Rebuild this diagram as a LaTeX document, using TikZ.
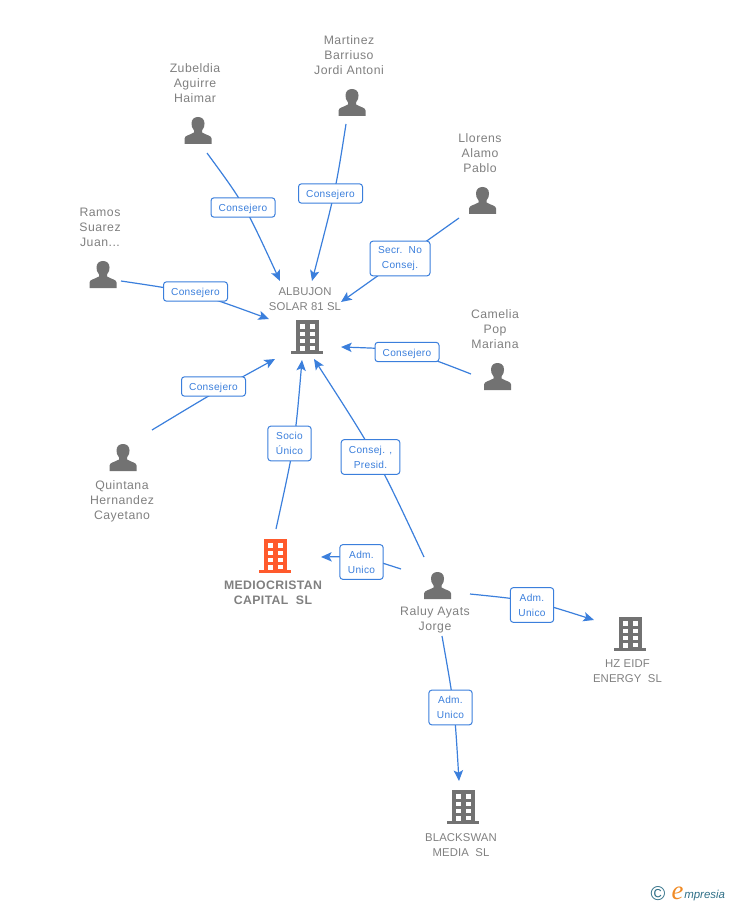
\documentclass[tikz,border=0pt]{standalone}
\usepackage{fontspec}
\setmainfont{Liberation Sans}
\newfontfamily\namefont[LetterSpace=4]{Liberation Sans}
\newfontfamily\cofont[LetterSpace=1]{Liberation Sans}
\newfontfamily\boldcofont[LetterSpace=3]{Liberation Sans Bold}
\newfontfamily\boxfont[LetterSpace=3]{Liberation Sans}
\newfontfamily\logoserif{Liberation Serif}
\usetikzlibrary{arrows.meta,backgrounds}
\definecolor{linkblue}{HTML}{3B7FDC}
\definecolor{icongray}{HTML}{727272}
\definecolor{textgray}{HTML}{808080}
\definecolor{orangeco}{HTML}{FF5A2C}
\definecolor{logoteal}{HTML}{2F6F87}
\definecolor{logoorange}{HTML}{F08A24}
\tikzset{
  personicon/.pic={
    \fill[icongray] (-13.5,13.5) -- (-13.5,8) .. controls (-13.5,5) and (-8,4.5) .. (-4,2) -- (-4,0)
      .. controls (-6,-2) and (-6.5,-5) .. (-6.5,-7) .. controls (-6.5,-11.5) and (-3.5,-13.5) .. (0,-13.5)
      .. controls (3.5,-13.5) and (6.5,-11.5) .. (6.5,-7) .. controls (6.5,-5) and (6,-2) .. (4,0) -- (4,2)
      .. controls (8,4.5) and (13.5,5) .. (13.5,8) -- (13.5,13.5) -- cycle;
  },
  buildingicon/.pic={
    \fill[pic actions] (-16,14) rectangle (16,17);
    \fill[pic actions] (-11,-17) rectangle (12,15);
    \foreach \wy/\wh in {-13/4.5,-5.5/4.5,1.5/4.5}{
      \fill[white] (-7,\wy) rectangle ++(4.7,\wh);
      \fill[white] (3,\wy) rectangle ++(4.7,\wh);
    }
    \fill[white] (-7,8.5) rectangle (-2.3,14);
    \fill[white] (3,8.5) rectangle (7.7,13);
  },
  name text/.style={text=textgray,align=center,inner sep=0pt,font=\namefont\fontsize{9.2}{11.25}\selectfont},
  co text/.style={text=textgray,align=center,inner sep=0pt,font=\cofont\fontsize{8.5}{11.25}\selectfont},
  linkbox/.style={draw=linkblue,fill=white,text=linkblue,rounded corners=2.2pt,line width=0.75pt,align=center,inner sep=0pt,
    font=\boxfont\fontsize{7.6}{11.25}\selectfont},
  onebox/.style={linkbox,minimum width=48pt,minimum height=14.5pt,text height=7pt,text depth=1pt},
  twobox/.style={linkbox,minimum width=32.5pt,minimum height=26pt},
  conn/.style={draw=linkblue,line width=0.9pt,-{Stealth[length=8pt,width=7pt,inset=1.8pt]}},
}
\begin{document}
\begin{tikzpicture}[x=0.75pt,y=-0.75pt]
\useasboundingbox (0,0) rectangle (728,905);

% icons
\pic at (198,130.5) {personicon};
\pic at (352,102.5) {personicon};
\pic at (482.5,200.5) {personicon};
\pic at (103,274.5) {personicon};
\pic at (497.5,376.5) {personicon};
\pic at (123,457.5) {personicon};
\pic at (437.5,585.5) {personicon};
\pic[icongray] at (307,337) {buildingicon};
\pic[orangeco] at (275,556) {buildingicon};
\pic[icongray] at (630,634) {buildingicon};
\pic[icongray] at (463,807) {buildingicon};

% texts
\node[name text] (zub) at (195,83) {Zubeldia\\Aguirre\\Haimar};
\node[name text] (mar) at (349,55) {Martinez\\Barriuso\\Jordi Antoni};
\node[name text] (llo) at (480,153) {Llorens\\Alamo\\Pablo};
\node[name text] (ram) at (100,227) {Ramos\\Suarez\\Juan...};
\node[name text] (cam) at (495,329) {Camelia\\Pop\\Mariana};
\node[name text] (qui) at (122,501) {Quintana\\Hernandez\\Cayetano};
\node[name text] (ral) at (435,620) {Raluy Ayats\\Jorge};
\node[co text] (alb) at (305,299) {ALBUJON\\SOLAR 81 SL};
\node[co text,font=\boldcofont\fontsize{9.2}{11.25}\selectfont] (med) at (273,592.5) {MEDIOCRISTAN\\CAPITAL\ \ SL};
\node[co text] (hze) at (627.5,671) {HZ EIDF\\ENERGY\ \ SL};
\node[co text] (bla) at (461,845) {BLACKSWAN\\MEDIA\ \ SL};

% link labels
\node[onebox] (l1) at (243,207.5) {Consejero};
\node[onebox] (l2) at (330.5,193.5) {Consejero};
\node[linkbox,minimum width=45pt,minimum height=26pt] (l3) at (400,258.5) {Secr.\ \ No\\Consej.};
\node[onebox] (l4) at (195.5,291.5) {Consejero};
\node[onebox] (l5) at (407,352) {Consejero};
\node[onebox] (l6) at (213.5,386.5) {Consejero};
\node[twobox] (l7) at (289.5,443.5) {Socio\\Único};
\node[linkbox,minimum width=44pt,minimum height=26pt] (l8) at (370.5,457) {Consej. ,\\Presid.};
\node[twobox] (l9) at (361.5,562) {Adm.\\Unico};
\node[twobox] (l10) at (532,605) {Adm.\\Unico};
\node[twobox] (l11) at (450.5,707.5) {Adm.\\Unico};

% connector ends and bend points
\coordinate (s1) at (207,153);   \coordinate (c1) at (244.2,203.7);  \coordinate (e1) at (280,281);
\coordinate (s2) at (346,124);   \coordinate (c2) at (335.7,189.8);  \coordinate (e2) at (312,281);
\coordinate (s3) at (459,218);   \coordinate (c3) at (400,260);      \coordinate (e3) at (341,302);
\coordinate (s4) at (121,281);   \coordinate (c4) at (195,292);      \coordinate (e4) at (269,319);
\coordinate (s5) at (471,374);   \coordinate (c5) at (407.3,349.2);  \coordinate (e5) at (341,347);
\coordinate (s6) at (152,430);   \coordinate (c6) at (214,392.5);    \coordinate (e6) at (275,359);
\coordinate (s7) at (276,529);   \coordinate (c7) at (295,442.5);    \coordinate (e7) at (302,360);
\coordinate (s8) at (424,557);   \coordinate (c8) at (377,456.7);    \coordinate (e8) at (314,359);
\coordinate (s9) at (401,569);   \coordinate (c9) at (361.7,556.3);  \coordinate (e9) at (321,557);
\coordinate (s10) at (470,594);  \coordinate (c10) at (532,600.3);   \coordinate (e10) at (594,620);
\coordinate (s11) at (442,636);  \coordinate (c11) at (454.5,706.5); \coordinate (e11) at (459,781);

\begin{scope}[on background layer]
  \foreach \i in {1,...,11}{
    \draw[conn] (s\i) .. controls (c\i) .. (e\i);
  }
\end{scope}

% logo
\node[inner sep=0pt,text=logoteal,font=\fontsize{15}{15}\selectfont] (logoc) at (658,894) {©};
\node[inner sep=0pt,text=logoorange,font=\logoserif\itshape\fontsize{20}{20}\selectfont] (logoe) at (677.5,893) {e};
\node[inner sep=0pt,anchor=base west,text=logoteal,font=\itshape\fontsize{8.6}{8.6}\selectfont] (logot) at (684,898) {mpresia};
\end{tikzpicture}
\end{document}
